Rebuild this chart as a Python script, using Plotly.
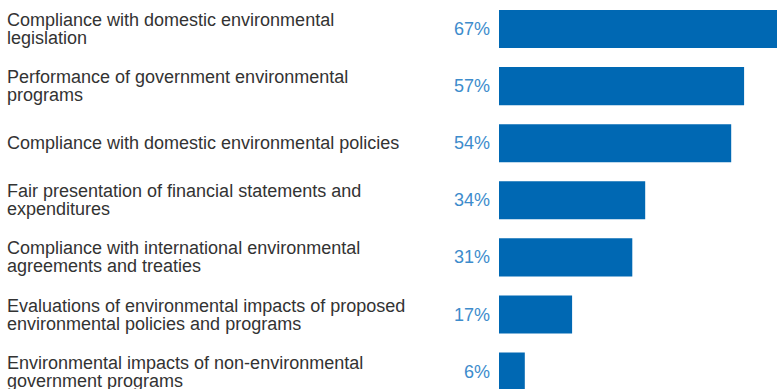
import plotly.graph_objects as go

categories = [
    ["Compliance with domestic environmental", "legislation"],
    ["Performance of government environmental", "programs"],
    ["Compliance with domestic environmental policies"],
    ["Fair presentation of financial statements and", "expenditures"],
    ["Compliance with international environmental", "agreements and treaties"],
    ["Evaluations of environmental impacts of proposed", "environmental policies and programs"],
    ["Environmental impacts of non-environmental", "government programs"],
]
values = [67, 57, 54, 34, 31, 17, 6]
value_labels = ["67%", "57%", "54%", "34%", "31%", "17%", "6%"]

W, H = 777, 389
BAR_COLOR = "#0068b3"
PCT_COLOR = "#3d8ccc"
TEXT_COLOR = "#333333"
FONT = "Liberation Sans, Arial, sans-serif"
FONT_SIZE = 18
LINE_GAP = 18

px_per_pct = 4.3
plot_left = 499
px_per_cat = 57.1
first_center = 29

ypos = list(range(len(categories)))

fig = go.Figure(
    go.Bar(
        x=values,
        y=ypos,
        orientation="h",
        width=0.667,
        marker=dict(color=BAR_COLOR, line=dict(width=0)),
        hoverinfo="skip",
    )
)

label_x = (6 - plot_left) / (W - plot_left)  # paper coords relative to plot area

for yi, lines, lab in zip(ypos, categories, value_labels):
    n = len(lines)
    for k, line in enumerate(lines):
        offset = (k - (n - 1) / 2) * LINE_GAP
        fig.add_annotation(
            x=label_x, xref="paper", y=yi, yref="y", yshift=-offset,
            text=line, showarrow=False, xanchor="left", yanchor="middle",
            borderpad=0,
            font=dict(family=FONT, size=FONT_SIZE, color=TEXT_COLOR),
        )
    fig.add_annotation(
        x=0, xref="x", y=yi, yref="y", xshift=-7,
        text=lab, showarrow=False, xanchor="right", yanchor="middle",
        font=dict(family=FONT, size=FONT_SIZE, color=PCT_COLOR),
    )

fig.update_layout(
    width=W, height=H,
    margin=dict(l=plot_left, r=0, t=0, b=0),
    paper_bgcolor="white", plot_bgcolor="white",
    showlegend=False,
    xaxis=dict(range=[0, (W - plot_left) / px_per_pct], visible=False, fixedrange=True),
    yaxis=dict(
        range=[(H - first_center) / px_per_cat, -first_center / px_per_cat],
        visible=False, fixedrange=True,
    ),
)

fig.write_html("out.html", config={"displayModeBar": False})
